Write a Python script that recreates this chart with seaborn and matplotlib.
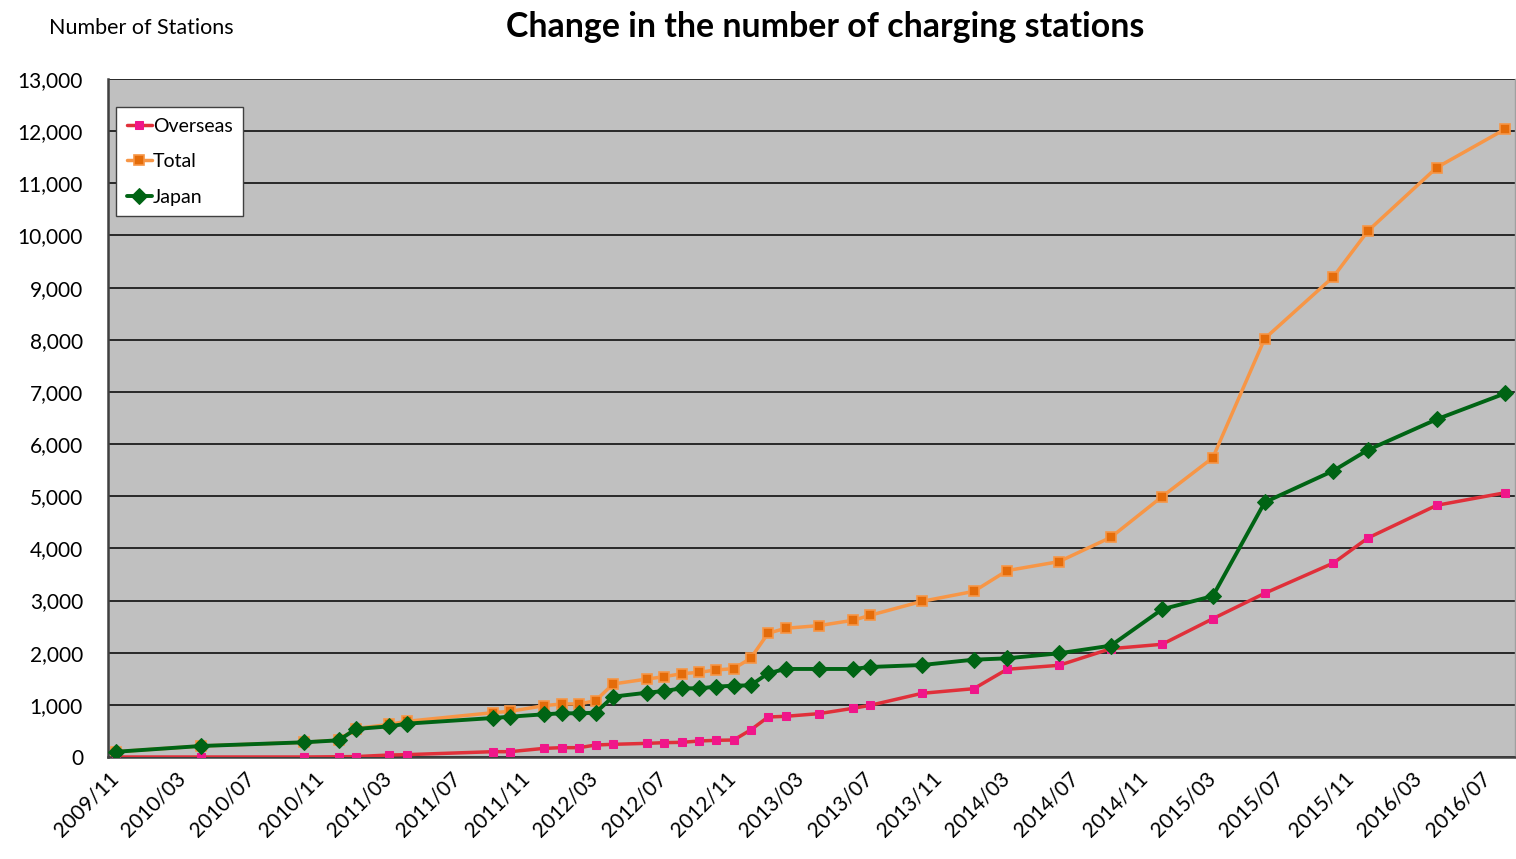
import pandas as pd
import numpy as np
import matplotlib
matplotlib.use("Agg")
import matplotlib.pyplot as plt
import matplotlib.dates as mdates
from matplotlib.ticker import FuncFormatter, MultipleLocator
import seaborn as sns

# survey months (points sit mid-month)
months = ["2009-11", "2010-04", "2010-10", "2010-12", "2011-01", "2011-03", "2011-04",
          "2011-09", "2011-10", "2011-12", "2012-01", "2012-02", "2012-03", "2012-04",
          "2012-06", "2012-07", "2012-08", "2012-09", "2012-10", "2012-11", "2012-12",
          "2013-01", "2013-02", "2013-04", "2013-06", "2013-07", "2013-10", "2014-01",
          "2014-03", "2014-06", "2014-09", "2014-12", "2015-03", "2015-06", "2015-10",
          "2015-12", "2016-04", "2016-08"]

japan = [100, 211, 282, 320, 537, 588, 639,
         748, 773, 819, 838, 838, 850, 1157,
         1234, 1266, 1317, 1317, 1349, 1368, 1374,
         1605, 1688, 1688, 1688, 1726, 1764, 1866,
         1892, 1988, 2135, 2832, 3087, 4884, 5490,
         5887, 6475, 6974]

overseas = [0, 0, 0, 5, 8, 38, 45,
            102, 102, 166, 179, 179, 230, 243,
            262, 275, 281, 307, 320, 326, 518,
            767, 780, 831, 934, 991, 1221, 1310,
            1682, 1758, 2077, 2161, 2652, 3139, 3720,
            4199, 4826, 5068]

total = [100, 211, 282, 325, 545, 626, 684,
         850, 875, 985, 1017, 1017, 1080, 1400,
         1496, 1541, 1598, 1624, 1669, 1694, 1892,
         2372, 2468, 2519, 2622, 2717, 2985, 3176,
         3574, 3746, 4212, 4993, 5739, 8023, 9210,
         10086, 11301, 12042]

dates = pd.to_datetime([m + "-15" for m in months])
df = pd.DataFrame({"date": dates, "Overseas": overseas, "Total": total, "Japan": japan})

sns.set_style("white")
plt.rcParams["font.family"] = ["Lato", "DejaVu Sans"]
plt.rcParams["text.color"] = "black"
plt.rcParams["xtick.color"] = "black"
plt.rcParams["ytick.color"] = "black"

fig = plt.figure(figsize=(15.16, 8.59), dpi=100)
ax = fig.add_axes([108 / 1516, 102 / 859, 1407 / 1516, 678 / 859])
ax.set_facecolor("#C0C0C0")

sns.lineplot(data=df, x="date", y="Overseas", ax=ax, color="#E0303A", lw=2.5,
             marker="s", markersize=6, markerfacecolor="#F0168A", markeredgecolor="#F0168A",
             label="Overseas", zorder=3)
sns.lineplot(data=df, x="date", y="Total", ax=ax, color="#F79646", lw=2.5,
             marker="s", markersize=7.5, markerfacecolor="#E46C0A", markeredgecolor="#F79646",
             markeredgewidth=1.2, label="Total", zorder=2)
sns.lineplot(data=df, x="date", y="Japan", ax=ax, color="#006414", lw=2.8,
             marker="D", markersize=8, markerfacecolor="#006414", markeredgecolor="#006414",
             label="Japan", zorder=4)

ax.set_xlim(pd.Timestamp("2009-11-01"), pd.Timestamp("2016-09-01"))
ax.set_ylim(0, 13000)
ax.xaxis.set_major_locator(mdates.MonthLocator(bymonth=[3, 7, 11]))
ax.xaxis.set_major_formatter(mdates.DateFormatter("%Y/%m"))
ax.yaxis.set_major_locator(MultipleLocator(1000))
ax.yaxis.set_major_formatter(FuncFormatter(lambda v, p: f"{int(v):,}"))
ax.grid(axis="y", color="black", lw=1.1)
ax.set_axisbelow(True)
ax.set_xlabel("")
ax.set_ylabel("")

for lab in ax.get_xticklabels():
    lab.set_rotation(45)
    lab.set_ha("right")
    lab.set_rotation_mode("anchor")
ax.tick_params(axis="x", direction="in", length=5, color="#404040", labelsize=15, pad=8)
ax.tick_params(axis="y", direction="in", length=5, color="#404040", labelsize=15, pad=18)
for lab in ax.get_yticklabels():
    lab.set_ha("right")

for s in ["left", "bottom"]:
    ax.spines[s].set_color("#404040")
    ax.spines[s].set_linewidth(1.8)
ax.spines["top"].set_visible(False)
ax.spines["right"].set_color("#A0A0A0")
ax.spines["right"].set_linewidth(1)

leg = ax.legend(loc="upper left", bbox_to_anchor=(0.0057, 0.9587), borderaxespad=0,
                fontsize=14, handlelength=1.3, handletextpad=0.05, labelspacing=0.95,
                frameon=True, fancybox=False, borderpad=0.55, framealpha=1)
leg.get_frame().set_edgecolor("#404040")
leg.get_frame().set_facecolor("white")
leg.get_frame().set_linewidth(1)

fig.text(49 / 1516, 1 - 28 / 859, "Number of Stations", fontsize=15.5, va="center", ha="left")
fig.text(825 / 1516, 1 - 27 / 859, "Change in the number of charging stations",
         fontsize=24.4, fontweight="bold", va="center", ha="center")

fig.savefig("out.png", dpi=100, facecolor="white")
